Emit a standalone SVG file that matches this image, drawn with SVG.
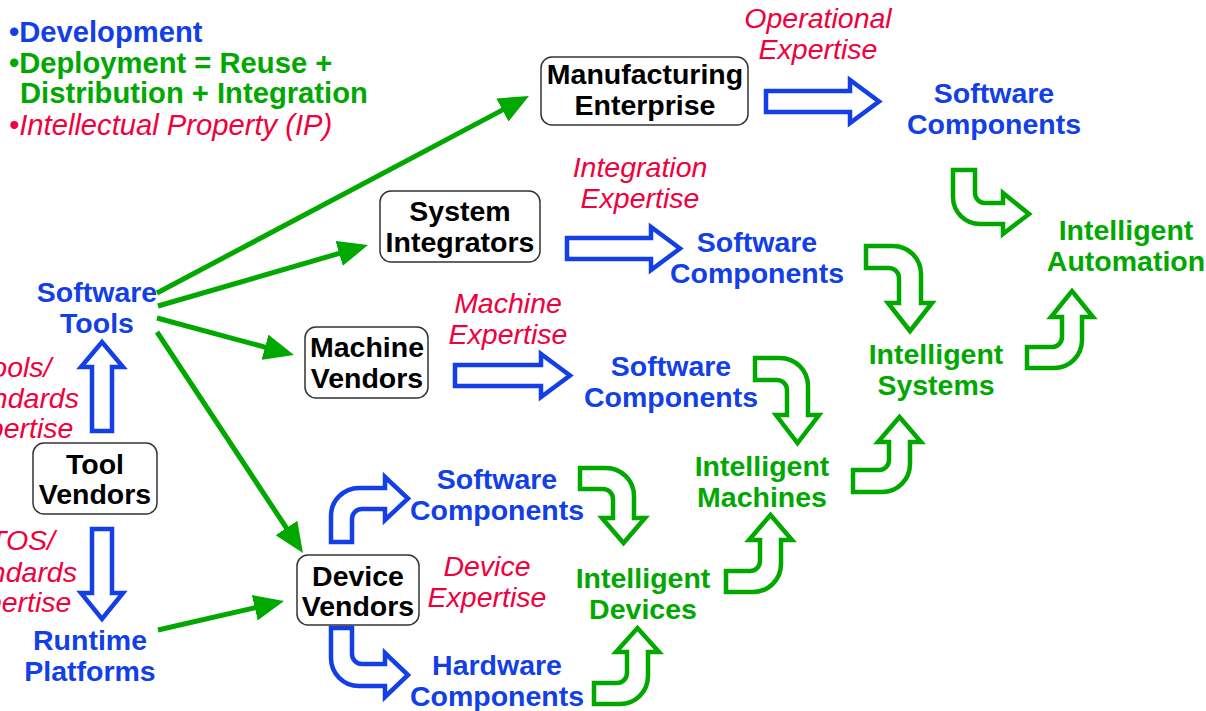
<svg xmlns="http://www.w3.org/2000/svg" width="1206" height="711" viewBox="0 0 1206 711">
<style>
text{font-family:"Liberation Sans",Arial,sans-serif;font-size:28.5px;text-anchor:middle}
.bl{fill:#1240e6;font-weight:bold}
.gr{fill:#00a800;font-weight:bold}
.rd{fill:#f0003c;font-style:italic}
.bk{fill:#000;font-weight:bold}
.lg{font-size:29.2px;text-anchor:start}
.box{fill:#fff;stroke:#333;stroke-width:1.5}
.ba{fill:#fff;stroke:#1240e6;stroke-width:4.5;stroke-linejoin:miter}
.ga{fill:#fff;stroke:#00a800;stroke-width:4.5;stroke-linejoin:miter}
.ln{stroke:#00a800;stroke-width:5;fill:none}
</style>
<defs>
<marker id="ah" viewBox="0 0 30 26" refX="15" refY="13" markerWidth="30" markerHeight="26" markerUnits="userSpaceOnUse" orient="auto"><path d="M0,0 L30,13 L0,26 Z" fill="#00a800"/></marker>
</defs>
<rect width="1206" height="711" fill="#fff"/>
<g id="legend">
<text x="9" y="42" class="bl lg">•Development</text>
<text x="9" y="73" class="gr lg">•Deployment = Reuse +</text>
<text x="20" y="103" class="gr lg">Distribution + Integration</text>
<text x="9" y="135" class="rd lg">•Intellectual Property (IP)</text>
</g>
<g id="connectors">
<line class="ln" x1="157" y1="293" x2="515.7" y2="103" marker-end="url(#ah)"/>
<line class="ln" x1="158" y1="306" x2="353.6" y2="249.2" marker-end="url(#ah)"/>
<line class="ln" x1="157" y1="318" x2="279.5" y2="351.1" marker-end="url(#ah)"/>
<line class="ln" x1="157" y1="332" x2="294.7" y2="540.5" marker-end="url(#ah)"/>
<line class="ln" x1="158" y1="630" x2="269.4" y2="604.4" marker-end="url(#ah)"/>
<path class="ba" d="M766,91 L850,91 L850,80 L879,101.5 L850,123 L850,112 L766,112 Z"/>
<path class="ba" d="M567,238 L651,238 L651,227 L680,248.5 L651,270 L651,259 L567,259 Z"/>
<path class="ba" d="M455,365 L541,365 L541,354 L570,375.5 L541,397 L541,386 L455,386 Z"/>
<path class="ba" d="M92,431 L92,367 L81,367 L102,342 L123,367 L112,367 L112,431 Z"/>
<path class="ba" d="M92,529 L92,593 L81,593 L102,619 L123,593 L112,593 L112,529 Z"/>
<path class="ba" d="M331,542 L331,516 A28,28 0 0 1 359,488 L385,488 L385,477 L408,498.5 L385,520 L385,509 L362,509 A10,10 0 0 0 352,519 L352,542 Z"/>
<path class="ba" d="M331,628 L331,658 A28,28 0 0 0 359,686 L385,686 L385,697 L408,675 L385,653 L385,664 L362,664 A10,10 0 0 1 352,654 L352,628 Z"/>
<path class="ga" d="M975,170 L953,170 L953,197 A27,27 0 0 0 980,224 L1003,224 L1003,234 L1029,214 L1003,193 L1003,203 L985,203 A10,10 0 0 1 975,193 Z"/>
<path class="ga" d="M866,246 L893,246 A28,28 0 0 1 921,274 L921,303 L932,303 L910,331 L888,303 L899,303 L899,278 A10,10 0 0 0 889,268 L866,268 Z"/>
<path class="ga" d="M755,358 L780,358 A28,28 0 0 1 808,386 L808,415 L819,415 L797.5,443 L776,415 L787,415 L787,390 A10,10 0 0 0 777,380 L755,380 Z"/>
<path class="ga" d="M580,468 L606,468 A28,28 0 0 1 634,496 L634,518 L645,518 L623.5,543 L602,518 L613,518 L613,499 A10,10 0 0 0 603,489 L580,489 Z"/>
<path class="ga" d="M594,704 L620,704 A28,28 0 0 0 648,676 L648,652 L659,652 L637.5,628 L616,652 L627,652 L627,673 A10,10 0 0 1 617,683 L594,683 Z"/>
<path class="ga" d="M726,592 L753,592 A28,28 0 0 0 781,564 L781,540 L792,540 L770.5,515 L749,540 L760,540 L760,561 A10,10 0 0 1 750,571 L726,571 Z"/>
<path class="ga" d="M853,492 L882,492 A28,28 0 0 0 910,464 L910,442 L921,442 L899.5,417 L878,442 L889,442 L889,460 A10,10 0 0 1 879,470 L853,470 Z"/>
<path class="ga" d="M1027,368 L1054,368 A28,28 0 0 0 1082,340 L1082,317 L1093,317 L1072,291 L1051,317 L1062,317 L1062,337 A10,10 0 0 1 1052,347 L1027,347 Z"/>
</g>
<g id="manufacturing-enterprise"><rect class="box" x="541" y="57" width="207" height="68" rx="11"/><text x="645" y="84" class="bk">Manufacturing</text><text x="645" y="115" class="bk">Enterprise</text></g>
<g id="system-integrators"><rect class="box" x="380" y="191" width="160" height="71" rx="11"/><text x="460" y="221" class="bk">System</text><text x="460" y="252" class="bk">Integrators</text></g>
<g id="machine-vendors"><rect class="box" x="305" y="327" width="123" height="71" rx="11"/><text x="367" y="357" class="bk">Machine</text><text x="367" y="388" class="bk">Vendors</text></g>
<g id="tool-vendors"><rect class="box" x="33" y="443" width="124" height="71" rx="11"/><text x="95" y="474" class="bk">Tool</text><text x="95" y="504" class="bk">Vendors</text></g>
<g id="device-vendors"><rect class="box" x="297" y="555" width="122" height="70" rx="11"/><text x="358" y="586" class="bk">Device</text><text x="358" y="616" class="bk">Vendors</text></g>
<g id="software-tools"><text x="97" y="302" class="bl">Software</text><text x="97" y="333" class="bl">Tools</text></g>
<g id="runtime-platforms"><text x="90" y="650" class="bl">Runtime</text><text x="90" y="681" class="bl">Platforms</text></g>
<g id="sc-1"><text x="994" y="103" class="bl">Software</text><text x="994" y="134" class="bl">Components</text></g>
<g id="sc-2"><text x="757" y="252" class="bl">Software</text><text x="757" y="283" class="bl">Components</text></g>
<g id="sc-3"><text x="671" y="376" class="bl">Software</text><text x="671" y="407" class="bl">Components</text></g>
<g id="sc-4"><text x="497" y="489" class="bl">Software</text><text x="497" y="520" class="bl">Components</text></g>
<g id="hardware-components"><text x="497" y="675" class="bl">Hardware</text><text x="497" y="706" class="bl">Components</text></g>
<g id="intelligent-automation"><text x="1126" y="240" class="gr">Intelligent</text><text x="1126" y="271" class="gr">Automation</text></g>
<g id="intelligent-systems"><text x="936" y="364" class="gr">Intelligent</text><text x="936" y="395" class="gr">Systems</text></g>
<g id="intelligent-machines"><text x="762" y="476" class="gr">Intelligent</text><text x="762" y="507" class="gr">Machines</text></g>
<g id="intelligent-devices"><text x="643" y="588" class="gr">Intelligent</text><text x="643" y="619" class="gr">Devices</text></g>
<g id="expertise-labels">
<text x="818" y="28" class="rd">Operational</text><text x="818" y="59" class="rd">Expertise</text>
<text x="640" y="177" class="rd">Integration</text><text x="640" y="208" class="rd">Expertise</text>
<text x="508" y="313" class="rd">Machine</text><text x="508" y="344" class="rd">Expertise</text>
<text x="487" y="576" class="rd">Device</text><text x="487" y="607" class="rd">Expertise</text>
<text x="14" y="377" class="rd">Tools/</text><text x="14" y="408" class="rd">Standards</text><text x="14" y="438" class="rd">Expertise</text>
<text x="12" y="550" class="rd">RTOS/</text><text x="12" y="582" class="rd">Standards</text><text x="12" y="612" class="rd">Expertise</text>
</g>
</svg>
